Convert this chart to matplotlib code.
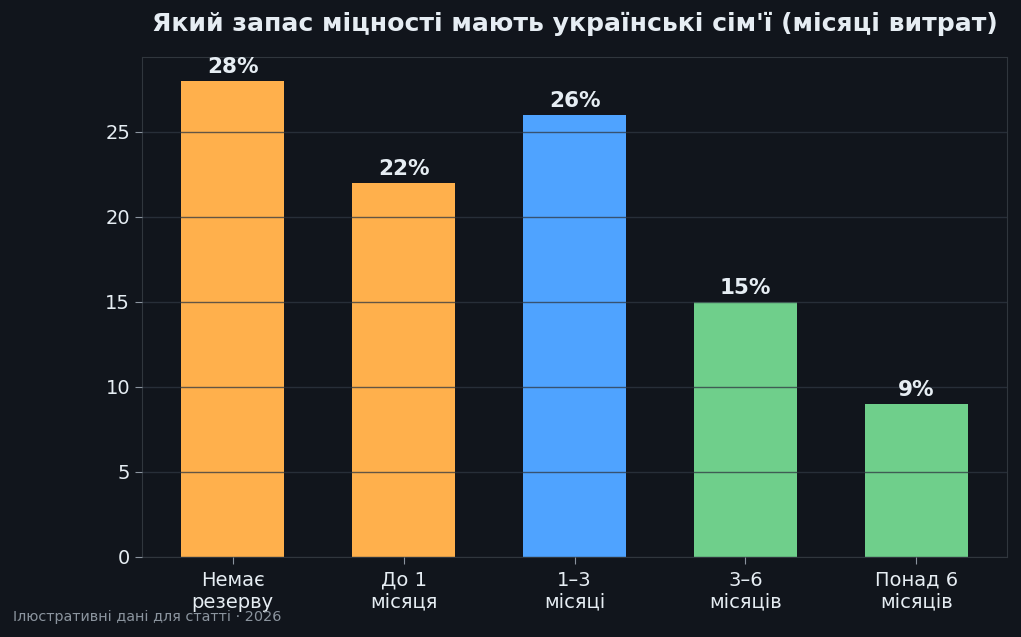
import matplotlib
matplotlib.use("Agg")
import matplotlib.pyplot as plt

categories = ["Немає\nрезерву", "До 1\nмісяця", "1–3\nмісяці", "3–6\nмісяців", "Понад 6\nмісяців"]
values = [28, 22, 26, 15, 9]
colors = ["#FFB04C", "#FFB04C", "#4FA3FF", "#6FCF8B", "#6FCF8B"]
title = "Який запас міцності мають українські сім'ї (місяці витрат)"
footer = "Ілюстративні дані для статті · 2026"

bg = "#11151C"
fg = "#E6EDF3"
spine = "#30363D"

fig = plt.figure(figsize=(10.21, 6.37), dpi=100, facecolor=bg)
ax = fig.add_axes([142/1021, 1-557/637, (1007-142)/1021, (557-57)/637])
ax.set_facecolor(bg)

x = range(len(categories))
bars = ax.bar(x, values, width=0.6, color=colors, zorder=1)
ax.set_axisbelow(False)
ax.yaxis.grid(True, color="#2f3742", alpha=0.75, linewidth=1.0, zorder=2)
ax.set_ylim(0, max(values) * 1.05)
ax.set_xticks(list(x))
ax.set_xticklabels(categories)
ax.tick_params(axis="both", colors="#8B949E", labelcolor=fg, labelsize=14, length=5)
ax.tick_params(axis="x", pad=5)
for s in ax.spines.values():
    s.set_color(spine)

for b, v in zip(bars, values):
    ax.annotate(f"{v}%", (b.get_x() + b.get_width()/2, v), xytext=(0, 3),
                textcoords="offset points", ha="center", va="bottom",
                fontsize=15.5, fontweight="bold", color=fg)

fig.text(575/1021, 1-24/637, title, ha="center", va="center",
         fontsize=18.1, fontweight="bold", color=fg)
fig.text(13/1021, 1-617/637, footer, ha="left", va="center",
         fontsize=10.4, color="#8B949E")

fig.savefig("out.png", dpi=100, facecolor=bg)
